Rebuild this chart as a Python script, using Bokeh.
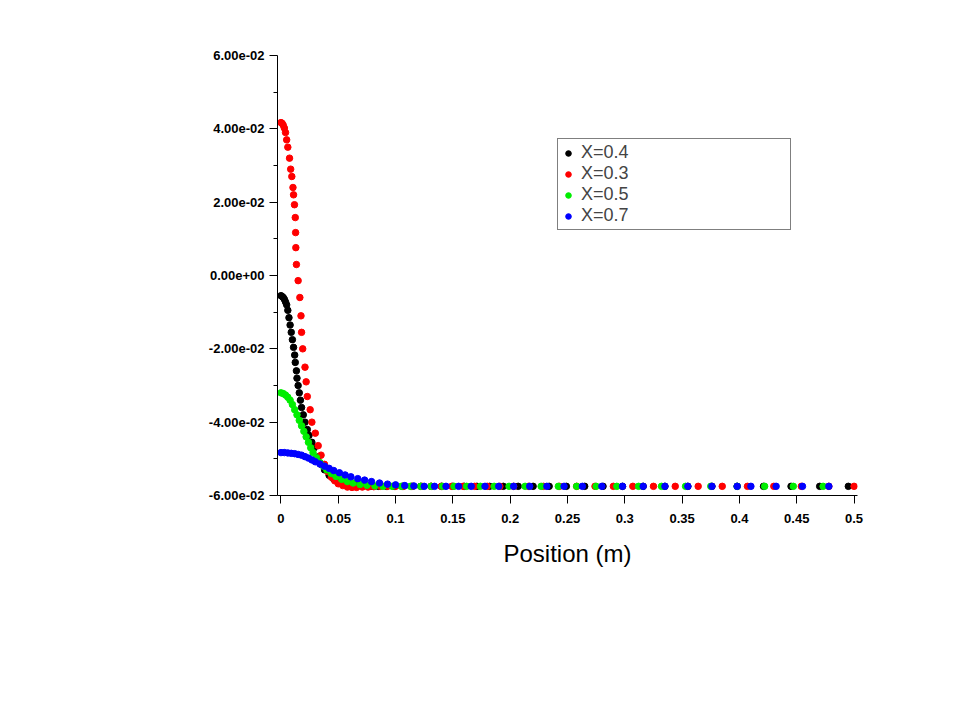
from bokeh.plotting import figure
from bokeh.models import Label, Legend, LegendItem, CustomJSTickFormatter, Range1d, FixedTicker, BoxAnnotation
from bokeh.embed import file_html
from bokeh.resources import INLINE

FONT = "Liberation Sans"

red_x = [0, 0.001, 0.002, 0.003, 0.004, 0.005, 0.006, 0.0075, 0.0085, 0.0095, 0.0105, 0.011, 0.0118, 0.0125,
         0.0128, 0.013, 0.0135, 0.015, 0.0165, 0.0175, 0.018, 0.019, 0.021, 0.022, 0.023, 0.0255, 0.027, 0.030,
         0.0325, 0.035, 0.038, 0.041, 0.044, 0.047, 0.050, 0.054, 0.058, 0.062, 0.066, 0.071, 0.076, 0.081,
         0.087, 0.093, 0.1, 0.107, 0.115, 0.123, 0.131, 0.14, 0.149, 0.159, 0.169, 0.18, 0.191, 0.203, 0.216,
         0.229, 0.243, 0.258, 0.274, 0.29, 0.307, 0.325, 0.344, 0.364, 0.385, 0.407, 0.43, 0.454, 0.478, 0.5]
red_y = [0.0417, 0.0415, 0.041, 0.0402, 0.039, 0.037, 0.035, 0.032, 0.029, 0.027, 0.024, 0.022, 0.0193, 0.0158,
         0.0117, 0.0076, 0.003, -0.0014, -0.006, -0.011, -0.0155, -0.020, -0.025, -0.029, -0.033, -0.0366, -0.040,
         -0.043, -0.0464, -0.049, -0.0515, -0.0535, -0.055, -0.056, -0.0568, -0.0573, -0.0577, -0.0578, -0.0578,
         -0.0577, -0.0577, -0.0576,
         -0.0575, -0.0575, -0.0575, -0.0575, -0.0575, -0.0575, -0.0575, -0.0575, -0.0575, -0.0575,
         -0.0575, -0.0575, -0.0575, -0.0575, -0.0575, -0.0575, -0.0575, -0.0575, -0.0575, -0.0575,
         -0.0575, -0.0575, -0.0575, -0.0575, -0.0575, -0.0575, -0.0575, -0.0575, -0.0575, -0.0575]

black_x = [0, 0.001, 0.002, 0.003, 0.004, 0.005, 0.006, 0.007, 0.008, 0.009, 0.010, 0.011, 0.012, 0.0125, 0.0135,
           0.014, 0.015, 0.016, 0.017, 0.018, 0.0195, 0.021, 0.023, 0.0245, 0.027, 0.029, 0.032, 0.035, 0.038,
           0.042, 0.046, 0.05, 0.055, 0.06, 0.066, 0.072, 0.078,
           0.085, 0.092, 0.099, 0.106, 0.114, 0.122, 0.131, 0.14, 0.15, 0.16, 0.171, 0.182, 0.194, 0.207, 0.22,
           0.234, 0.249, 0.265, 0.281, 0.298, 0.316, 0.335, 0.355, 0.376, 0.398, 0.421, 0.445, 0.47, 0.495]
black_y = [-0.0055, -0.0057, -0.006, -0.0065, -0.0072, -0.008, -0.0095, -0.0115, -0.0135, -0.0155, -0.0175,
           -0.0196, -0.0217, -0.0237, -0.026, -0.028, -0.030, -0.032, -0.034, -0.036, -0.038, -0.040, -0.042,
           -0.0436, -0.0455, -0.047, -0.0495, -0.0515, -0.053, -0.0545, -0.0555, -0.0562, -0.0567, -0.057,
           -0.0572, -0.0574, -0.0575,
           -0.0575, -0.0575, -0.0575, -0.0575, -0.0575, -0.0575, -0.0575, -0.0575, -0.0575, -0.0575,
           -0.0575, -0.0575, -0.0575, -0.0575, -0.0575, -0.0575, -0.0575, -0.0575, -0.0575, -0.0575,
           -0.0575, -0.0575, -0.0575, -0.0575, -0.0575, -0.0575, -0.0575, -0.0575, -0.0575]

green_x = [0, 0.002, 0.004, 0.006, 0.008, 0.010, 0.012, 0.014, 0.016, 0.018, 0.020, 0.022, 0.024, 0.026, 0.028,
           0.031, 0.034, 0.037, 0.040, 0.044, 0.048, 0.053, 0.058, 0.063, 0.069, 0.075, 0.082,
           0.089, 0.097, 0.105, 0.113, 0.122, 0.131, 0.141, 0.151, 0.162, 0.174, 0.186, 0.199, 0.213, 0.227,
           0.242, 0.258, 0.275, 0.293, 0.312, 0.332, 0.353, 0.375, 0.398, 0.422, 0.447, 0.473]
green_y = [-0.032, -0.0322, -0.0326, -0.0332, -0.034, -0.0352, -0.0366, -0.038, -0.0395, -0.041, -0.0425,
           -0.044, -0.0455, -0.047, -0.0483, -0.0497, -0.051, -0.052, -0.053, -0.054, -0.0548, -0.0556,
           -0.0562, -0.0566, -0.057, -0.0572, -0.0574,
           -0.0575, -0.0575, -0.0575, -0.0575, -0.0575, -0.0575, -0.0575, -0.0575, -0.0575, -0.0575,
           -0.0575, -0.0575, -0.0575, -0.0575, -0.0575, -0.0575, -0.0575, -0.0575, -0.0575, -0.0575,
           -0.0575, -0.0575, -0.0575, -0.0575, -0.0575, -0.0575]

blue_x = [0, 0.003, 0.006, 0.009, 0.012, 0.015, 0.018, 0.021, 0.024, 0.027, 0.030, 0.034, 0.038, 0.042, 0.046,
          0.051, 0.056, 0.061, 0.067, 0.073, 0.079, 0.086, 0.093, 0.1, 0.108, 0.116,
          0.125, 0.134, 0.144, 0.155, 0.166, 0.178, 0.19, 0.203, 0.217, 0.232, 0.247, 0.263, 0.28, 0.298,
          0.316, 0.335, 0.355, 0.376, 0.398, 0.41, 0.432, 0.455, 0.478]
blue_y = [-0.0483, -0.0483, -0.0484, -0.0485, -0.0486, -0.0488, -0.049, -0.0494, -0.0498, -0.0503, -0.0508,
          -0.0514, -0.052, -0.0526, -0.0532, -0.0538, -0.0544, -0.0549, -0.0554, -0.0558, -0.0562, -0.0566,
          -0.0569, -0.0571, -0.0573, -0.0574,
          -0.0575, -0.0575, -0.0575, -0.0575, -0.0575, -0.0575, -0.0575, -0.0575, -0.0575, -0.0575,
          -0.0575, -0.0575, -0.0575, -0.0575, -0.0575, -0.0575, -0.0575, -0.0575, -0.0575, -0.0575,
          -0.0575, -0.0575, -0.0575]

y_ticks = [-0.06, -0.04, -0.02, 0.0, 0.02, 0.04, 0.06]
x_ticks = [0, 0.05, 0.1, 0.15, 0.2, 0.25, 0.3, 0.35, 0.4, 0.45, 0.5]

p = figure(width=944, height=704, output_backend="svg", toolbar_location=None,
           x_range=Range1d(-0.003, 0.503), y_range=Range1d(-0.06, 0.06),
           min_border_left=277, min_border_right=87, min_border_top=55, min_border_bottom=209)
p.outline_line_color = None
p.grid.visible = False

r_black = p.scatter(black_x, black_y, size=6.5, color="black")
r_red = p.scatter(red_x, red_y, size=6.5, color="red")
r_green = p.scatter(green_x, green_y, size=6.5, color="#00ee00")
r_blue = p.scatter(blue_x, blue_y, size=6.5, color="blue")

p.xaxis.ticker = FixedTicker(ticks=x_ticks)
p.yaxis.ticker = FixedTicker(ticks=y_ticks, minor_ticks=[-0.05, -0.03, -0.01, 0.01, 0.03, 0.05])
p.yaxis.formatter = CustomJSTickFormatter(code="""
let s = tick.toExponential(2);
return s.replace(/e([+-])(\\d)$/, 'e$10$2');
""")
p.xaxis.formatter = CustomJSTickFormatter(code="return String(Math.round(tick*100)/100);")
for ax in (p.xaxis, p.yaxis):
    ax.axis_line_color = "black"
    ax.major_tick_line_color = "black"
    ax.minor_tick_line_color = "black"
    ax.major_tick_out = 8
    ax.major_tick_in = 0
    ax.minor_tick_out = 4
    ax.minor_tick_in = 0
    ax.major_label_text_font = FONT
    ax.major_label_text_font_size = "13px"
    ax.major_label_text_font_style = "bold"
    ax.major_label_text_color = "black"
p.xaxis.major_label_standoff = 10
p.xaxis.axis_label = "Position (m)"
p.xaxis.axis_label_text_font = FONT
p.xaxis.axis_label_text_font_size = "24px"
p.xaxis.axis_label_text_font_style = "normal"
p.xaxis.axis_label_text_color = "black"
p.xaxis.axis_label_standoff = 14

p.add_layout(Label(x=-0.24, y=0.0, text="custom-function-0", text_align="left", text_baseline="middle",
                   text_font=FONT, text_font_size="22px", text_color="black"))

legend = Legend(items=[LegendItem(label="X=0.4", renderers=[r_black]),
                       LegendItem(label="X=0.3", renderers=[r_red]),
                       LegendItem(label="X=0.5", renderers=[r_green]),
                       LegendItem(label="X=0.7", renderers=[r_blue])],
                location=(280, 265), label_text_font=FONT, label_text_font_size="18px",
                label_height=18, glyph_height=18, glyph_width=14, spacing=0, padding=3,
                label_standoff=6, label_width=206, border_line_color="black", border_line_width=1,
                margin=0)
p.add_layout(legend, "center")

# footer box (canvas y 623..703, x 1..937)
p.add_layout(BoxAnnotation(left=-0.2434, right=0.5719, top=-0.0949, bottom=-0.1167,
                           fill_color="white", fill_alpha=1, line_color="black", line_width=1))
p.add_layout(Label(x=-0.2395, y=-0.1061, text="custom-function-0",
                   text_font=FONT, text_font_size="14px", text_baseline="middle", text_color="black"))
p.add_layout(Label(x=0.5675, y=-0.1061, text="Feb 03, 2017",
                   text_font=FONT, text_font_size="14px", text_baseline="middle", text_align="right",
                   text_color="black"))
p.add_layout(Label(x=0.5675, y=-0.1115, text="ANSYS Fluent Release 16.1 (axi, dp, pbns, spe, rke)",
                   text_font=FONT, text_font_size="14px", text_baseline="middle", text_align="right",
                   text_color="black"))

open("out.html", "w").write(file_html(p, INLINE))
